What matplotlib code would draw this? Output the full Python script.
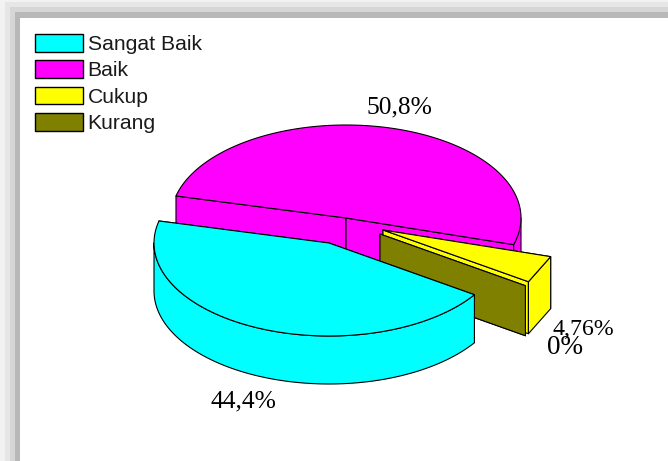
import numpy as np
import matplotlib
matplotlib.use("Agg")
import matplotlib.pyplot as plt
from matplotlib.patches import Polygon, Rectangle, Patch

categories = ["Sangat Baik", "Baik", "Cukup", "Kurang"]
values = [44.4, 50.8, 4.76, 0.0]
value_labels = ["44,4%", "50,8%", "4,76%", "0%"]
colors = ["#00FFFF", "#FF00FF", "#FFFF00", "#808000"]

W, H = 668, 461
fig = plt.figure(figsize=(W / 100, H / 100), dpi=100)
ax = fig.add_axes([0, 0, 1, 1])
ax.set_xlim(0, W)
ax.set_ylim(H, 0)
ax.axis("off")

# soft frame shadow (top and left)
for x0, y0, c in [(0, 0, "#f2f2f2"), (5, 2, "#e6e6e6"), (10, 7, "#d6d6d6"),
                  (15, 12, "#b8b8b8"), (20, 18, "#ffffff")]:
    ax.add_patch(Rectangle((x0, y0), W - x0, H - y0, fc=c, ec="none", zorder=0))

A, B = 175.0, 93.0
LW = 0.8
START = 33.8
total = sum(values)
sweeps = [v / total * 360 for v in values]
starts = START + np.concatenate([[0], np.cumsum(sweeps)[:-1]])

# exploded slice centres and depths (drawing geometry)
centres = [(329, 243), (346, 218), (383, 230), (380, 234)]
depths = [48, 48, 52, 50]
order = [1, 2, 3, 0]


def pt(c, t):
    r = np.radians(t)
    return np.column_stack([c[0] + A * np.cos(r), c[1] + B * np.sin(r)])


def n_pts(a, b):
    # small slices are drawn with a straight chord, as in the reference
    return 2 if b - a < 25 else 160


z = 2


def add(xy, color):
    global z
    ax.add_patch(Polygon(xy, closed=True, fc=color, ec="black", lw=LW,
                         joinstyle="round", zorder=z))
    z += 1


for i in order:
    c, d, col = centres[i], depths[i], colors[i]
    t0, t1 = starts[i], starts[i] + sweeps[i]
    cc = np.array([c], float)
    dv = np.array([[0, d]], float)
    for t in (t0, t1):
        p = pt(c, np.array([t]))
        add(np.vstack([cc, p, p + dv, cc + dv]), col)
    for lo, hi in [(0, 180), (360, 540)]:
        a, b = max(t0, lo), min(t1, hi)
        if b > a:
            arc = pt(c, np.linspace(a, b, n_pts(a, b)))
            add(np.vstack([arc, arc[::-1] + dv]), col)
    if sweeps[i] > 0:
        arc = pt(c, np.linspace(t0, t1, n_pts(t0, t1)))
        add(np.vstack([cc, arc]), col)

label_pos = [(243, 407), (399, 113), (583, 335), (564.5, 353.5)]
label_size = [18.4, 18.4, 17.2, 19.5]
for s, (x, y), fs in zip(value_labels, label_pos, label_size):
    ax.text(x, y, s, ha="center", va="baseline", fontsize=fs,
            family="Liberation Serif", color="black", zorder=z + 1)

handles = [Patch(fc=c, ec="black", lw=1.0) for c in colors]
ax.legend(handles, categories, loc="upper left", bbox_to_anchor=(35 / W, 1 - 34 / H),
          borderaxespad=0, borderpad=0, frameon=False,
          prop={"family": "Liberation Sans", "size": 15.2},
          handlelength=2.27, handleheight=0.9, handletextpad=0.22, labelspacing=0.3,
          labelcolor="#1a1a1a")

fig.savefig("out.png", dpi=100)
